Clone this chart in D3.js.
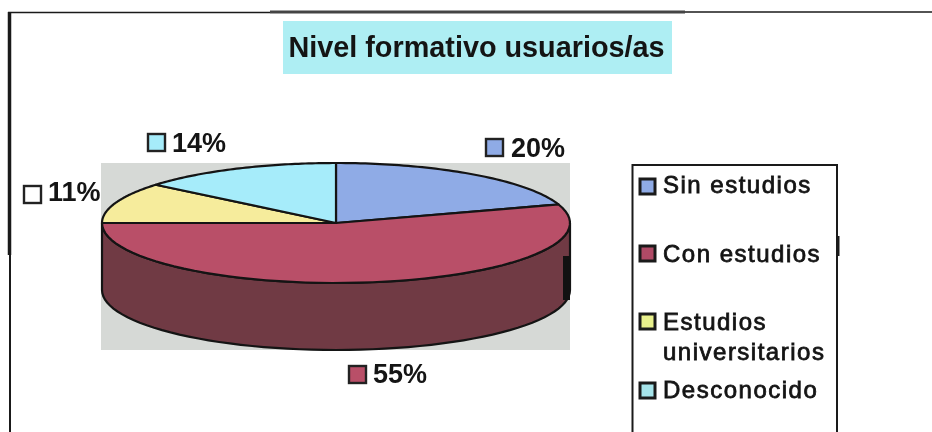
<!DOCTYPE html>
<html><head><meta charset="utf-8">
<script src="https://cdn.jsdelivr.net/npm/d3@7/dist/d3.min.js"></script>
<style>html,body{margin:0;padding:0;background:#fff}svg{display:block;filter:blur(0.45px)}text{font-family:"Liberation Sans",Arial,sans-serif;fill:#141414}</style>
</head><body><svg id="c" width="932" height="432"></svg>
<script>
const categories = ["Sin estudios","Con estudios","Estudios universitarios","Desconocido"];
const values = [20,55,11,14];
const topColors = ["#8fabe6","#b94f68","#f6ec9c","#a6ecfa"];
const sideColors = ["#5a6c92","#703a44","#9c9563","#6a959e"];
const legendColors = ["#8fabe6","#b04a66","#e8f08c","#a6e4ea"];
const title = "Nivel formativo usuarios/as";

const svg = d3.select("#c");
const cx=336, cy=223, rx=234, ry=60, depth=67;
const X = d3.scaleLinear().domain([-1,1]).range([cx-rx,cx+rx]);
const Y = d3.scaleLinear().domain([-1,1]).range([cy-ry,cy+ry]);
const slices = d3.pie().sort(null)(values);
const pt = a => [X(Math.sin(a)), Y(-Math.cos(a))];
const frac = d3.format(".0%");
const total = d3.sum(values);

// frame
const L=(x1,y1,x2,y2,w,c="#1a1a1a")=>svg.append("line").attr("x1",x1).attr("y1",y1).attr("x2",x2).attr("y2",y2).attr("stroke",c).attr("stroke-width",w);
L(8,12.5,270,12.5,1.5);L(270,12,685,12,3,"#444");L(685,12,932,12,1.5);
L(9.5,12,9.5,255,3.5);L(10,255,10,432,2);

// title
svg.append("rect").attr("x",283).attr("y",21).attr("width",389).attr("height",53).attr("fill","#aeeef3");
svg.append("text").attr("x",476.5).attr("y",57).attr("text-anchor","middle").attr("font-size",28.8).attr("font-weight",700).text(title);

// plot backdrop
svg.append("rect").attr("x",101).attr("y",163).attr("width",469).attr("height",187).attr("fill","#d6d9d6");

// front wall
const line = d3.line();
const steps = d3.range(0,61).map(i=>i/60);
const aL=Math.PI/2, aR=3*Math.PI/2;
const wall = steps.map(t=>pt(aL+(aR-aL)*t));
svg.append("path").attr("d",line(wall.concat(wall.slice().reverse().map(p=>[p[0],p[1]+depth])))+"Z")
  .attr("fill",sideColors[1]).attr("stroke","#141414").attr("stroke-width",2.2);

// top face
slices.forEach((s,i)=>{
  const pts=[[cx,cy]].concat(steps.map(t=>pt(s.startAngle+(s.endAngle-s.startAngle)*t)));
  svg.append("path").attr("d",line(pts)+"Z").attr("fill",topColors[i]).attr("stroke","#141414").attr("stroke-width",2.2).attr("stroke-linejoin","round");
});

// scan artefact
svg.append("rect").attr("x",563).attr("y",256).attr("width",7).attr("height",44).attr("fill","#111");

// data labels: box x, box y, text x, baseline
const labelPos=[[486,139,511,157],[349,366,373,383],[24,186,48,201],[148,134,172,152]];
labelPos.forEach(([x,y,tx,ty],i)=>{
  svg.append("rect").attr("x",x).attr("y",y).attr("width",17).attr("height",17).attr("fill",i==2?"#fff":topColors[i]).attr("stroke","#222").attr("stroke-width",2.4);
  svg.append("text").attr("x",tx).attr("y",ty).attr("font-size",27).attr("font-weight",700).text(frac(values[i]/total));
});

// legend
svg.append("path").attr("d","M632.5,432V165H837V432").attr("fill","none").attr("stroke","#1a1a1a").attr("stroke-width",2);
L(838.5,236,838.5,256,2);
const legendBoxY=[179,246,314,383];
const legendY=[[193],[262],[330,360],[398]];
const legendLines=[["Sin estudios"],["Con estudios"],["Estudios","universitarios"],["Desconocido"]];
categories.forEach((c,i)=>{
  svg.append("rect").attr("x",640).attr("y",legendBoxY[i]).attr("width",15).attr("height",15).attr("fill",legendColors[i]).attr("stroke","#1a1a1a").attr("stroke-width",3);
  legendLines[i].forEach((t,j)=>svg.append("text").attr("x",663).attr("y",legendY[i][j]).attr("font-size",24).attr("letter-spacing",1.5).attr("stroke","#141414").attr("stroke-width",0.8).text(t));
});
</script></body></html>
